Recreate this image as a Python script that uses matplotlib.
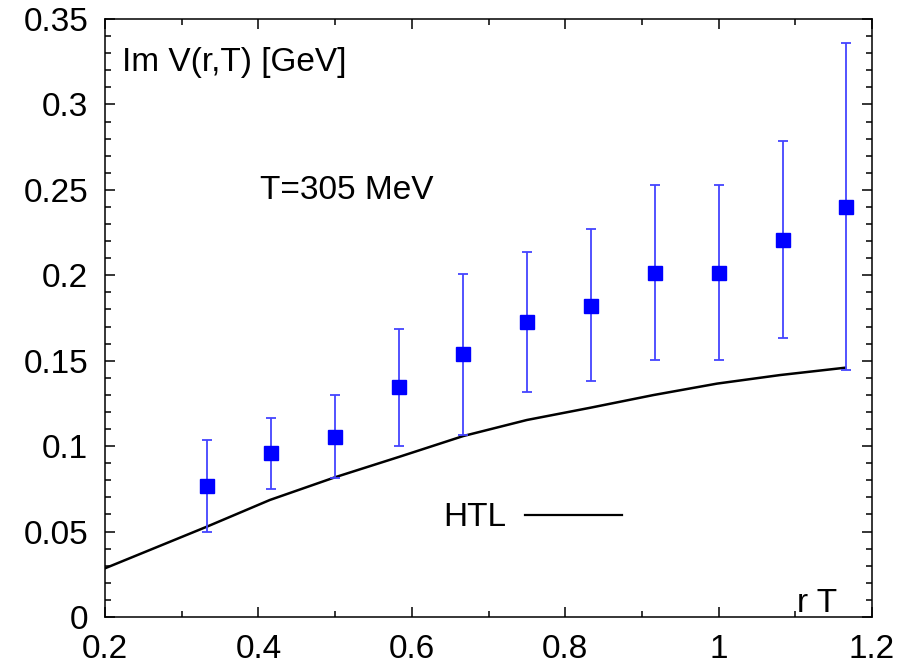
import matplotlib
matplotlib.use('Agg')
from matplotlib import pyplot as plt
from matplotlib.ticker import MultipleLocator

plt.rcParams['font.family'] = ['Liberation Sans', 'DejaVu Sans']

# lattice data, Im V(r,T) at T=305 MeV
rT = [1/3, 5/12, 1/2, 7/12, 2/3, 3/4, 5/6, 11/12, 1.0, 13/12, 7/6]
im_v = [0.0767, 0.0958, 0.1055, 0.1344, 0.1538, 0.1728, 0.1822, 0.2015, 0.2015, 0.2208, 0.2401]
err_hi = [0.1036, 0.1167, 0.1297, 0.1684, 0.2008, 0.2138, 0.2269, 0.2528, 0.2528, 0.2788, 0.3360]
err_lo = [0.0499, 0.0751, 0.0815, 0.1003, 0.1067, 0.1319, 0.1381, 0.1506, 0.1506, 0.1633, 0.1446]

# HTL curve
htl_x = [0.2, 0.333, 0.415, 0.5, 0.584, 0.667, 0.75, 0.833, 0.915, 0.998, 1.08, 1.165]
htl_y = [0.0285, 0.0529, 0.0685, 0.0818, 0.0938, 0.1059, 0.1153, 0.1225, 0.1299, 0.1366, 0.1416, 0.1459]

fs = 24

fig = plt.figure(figsize=(9.13, 6.66), dpi=100)
ax = fig.add_axes([105/913, 49/666, 767/913, 598/666])

yerr = [[v - lo for v, lo in zip(im_v, err_lo)], [hi - v for v, hi in zip(im_v, err_hi)]]
ax.errorbar(rT, im_v, yerr=yerr, fmt='none', ecolor='#4444ff', elinewidth=1.3,
            capsize=3.3, capthick=1.3, zorder=2)
ax.plot(rT, im_v, 's', color='#0000ff', markersize=10.5, zorder=3)

ax.plot(htl_x, htl_y, color='black', lw=1.8, zorder=1)
# key
ax.plot([0.748, 0.874], [0.0597, 0.0597], color='black', lw=1.6)
ax.text(0.6407, 0.0585, 'HTL', fontsize=fs, va='center', ha='left')

ax.text(0.2222, 0.3248, 'Im V(r,T) [GeV]', fontsize=fs, va='center', ha='left')
ax.text(0.4021, 0.2499, 'T=305 MeV', fontsize=fs, va='center', ha='left')
ax.text(1.1022, 0.003, 'r T', fontsize=fs, va='baseline', ha='left')

ax.set_xlim(0.2, 1.2)
ax.set_ylim(0, 0.35)
ax.xaxis.set_major_locator(MultipleLocator(0.2))
ax.xaxis.set_minor_locator(MultipleLocator(0.1))
ax.yaxis.set_major_locator(MultipleLocator(0.05))
ax.yaxis.set_minor_locator(MultipleLocator(0.01))
ax.set_xticks([0.2, 0.4, 0.6, 0.8, 1.0, 1.2])
ax.set_xticklabels(['0.2', '0.4', '0.6', '0.8', '1', '1.2'])
ax.set_yticks([0, 0.05, 0.1, 0.15, 0.2, 0.25, 0.3, 0.35])
ax.set_yticklabels(['0', '0.05', '0.1', '0.15', '0.2', '0.25', '0.3', '0.35'])
ax.tick_params(which='both', direction='in', top=True, right=True, labelsize=fs, width=1.1)
ax.tick_params(which='major', length=7, pad=12)
ax.tick_params(which='minor', length=4)
for s in ax.spines.values():
    s.set_linewidth(1.1)

fig.savefig('out.png', dpi=100)
